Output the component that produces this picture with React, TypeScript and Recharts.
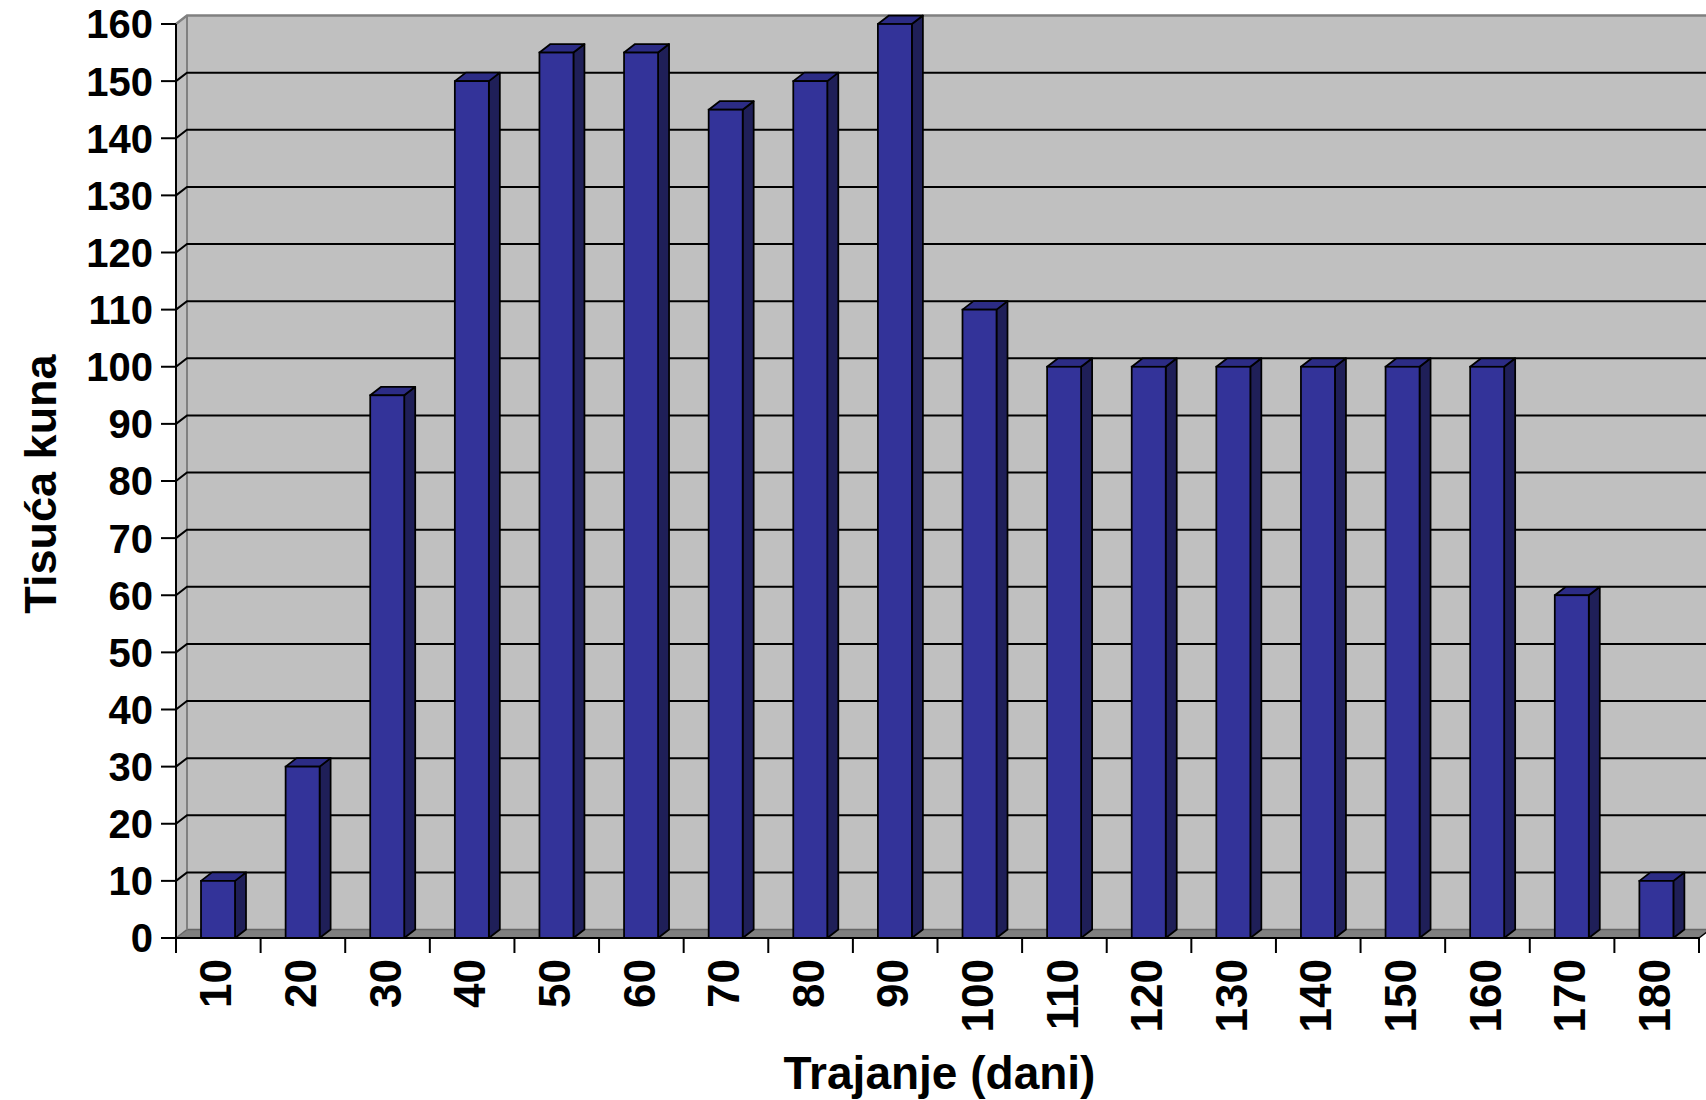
import React from 'react';
import { BarChart, Bar, XAxis, YAxis, ReferenceArea, ReferenceLine, Label } from 'recharts';

const categories = ['10', '20', '30', '40', '50', '60', '70', '80', '90', '100', '110', '120', '130', '140', '150', '160', '170', '180'];
const values = [10, 30, 95, 150, 155, 155, 145, 150, 160, 110, 100, 100, 100, 100, 100, 100, 60, 10];
const yTicks = [0, 10, 20, 30, 40, 50, 60, 70, 80, 90, 100, 110, 120, 130, 140, 150, 160];
const gridValues = [10, 20, 30, 40, 50, 60, 70, 80, 90, 100, 110, 120, 130, 140, 150];
const yLabel = 'Tisuća kuna';
const xLabel = 'Trajanje (dani)';

const data = categories.map((c, i) => ({ name: c, value: values[i] }));

const W = 1706;
const H = 1100;
const MARGIN = { top: 24, right: 7, left: 0, bottom: 0 };
const Y_AXIS_W = 176;
const X_AXIS_H = 162;
const PLOT_W = W - MARGIN.left - MARGIN.right - Y_AXIS_W;
const BAND = PLOT_W / categories.length;
const DX = 11;
const DY = 8.5;
const FONT = '"Liberation Sans", Arial, Helvetica, sans-serif';
const TICK_SIZE = 15;
const X_TICK_MARGIN = 6;

const Wall = (props: any) => {
  const { x, y, width, height } = props;
  const b = y + height;
  const r = x + width;
  return (
    <g>
      <rect x={x + DX} y={y - DY} width={width} height={height} fill="#c0c0c0" />
      <polygon points={`${x},${y} ${x + DX},${y - DY} ${x + DX},${b - DY} ${x},${b}`} fill="#c0c0c0" />
      <polygon points={`${x},${b} ${x + DX},${b - DY} ${r + DX},${b - DY} ${r},${b}`} fill="#808080" />
      <line x1={x} y1={b} x2={x + DX} y2={b - DY} stroke="#666" strokeWidth={1.5} />
      <line x1={x + DX} y1={b - DY} x2={r + DX} y2={b - DY} stroke="#666" strokeWidth={1.5} />
      <line x1={r} y1={b} x2={r + DX} y2={b - DY} stroke="#000" strokeWidth={1.5} />
      <line x1={x + DX} y1={y - DY} x2={x + DX} y2={b - DY} stroke="#808080" strokeWidth={2} />
      <polyline points={`${x},${y} ${x + DX},${y - DY} ${r + DX},${y - DY}`} fill="none" stroke="#808080" strokeWidth={2.5} />
    </g>
  );
};

const GridLine = (props: any) => {
  const { x1, y1, x2 } = props;
  return (
    <polyline
      points={`${x1},${y1} ${x1 + DX},${y1 - DY} ${x2 + DX},${y1 - DY}`}
      fill="none"
      stroke="#000"
      strokeWidth={2}
    />
  );
};

const Bar3D = (props: any) => {
  const { x, y, width, height } = props;
  if (height == null || height <= 0) return null;
  const r = x + width;
  const b = y + height;
  return (
    <g>
      <polygon points={`${r},${y} ${r + DX},${y - DY} ${r + DX},${b - DY} ${r},${b}`} fill="#1f1f58" stroke="#000" strokeWidth={1.75} strokeLinejoin="round" />
      <polygon points={`${x},${y} ${x + DX},${y - DY} ${r + DX},${y - DY} ${r},${y}`} fill="#2c2c85" stroke="#000" strokeWidth={1.75} strokeLinejoin="round" />
      <rect x={x} y={y} width={width} height={height} fill="#333399" stroke="#000" strokeWidth={1.75} />
    </g>
  );
};

const YTick = (props: any) => {
  const { x, y, payload } = props;
  return (
    <text x={x} y={y} dy="0.36em" textAnchor="end" fontFamily={FONT} fontWeight="bold" fontSize={40} fill="#000">
      {payload.value}
    </text>
  );
};

const XTick = (props: any) => {
  const { x, y, payload, index, visibleTicksCount } = props;
  const axisY = y - TICK_SIZE - X_TICK_MARGIN;
  const last = index === (visibleTicksCount ?? categories.length) - 1;
  return (
    <g>
      <line x1={x - BAND / 2} y1={axisY} x2={x - BAND / 2} y2={axisY + TICK_SIZE} stroke="#000" strokeWidth={2} />
      {last && <line x1={x + BAND / 2} y1={axisY} x2={x + BAND / 2} y2={axisY + TICK_SIZE} stroke="#000" strokeWidth={2} />}
      <text
        x={x}
        y={y}
        dy="0.3em"
        transform={`rotate(-90 ${x} ${y})`}
        textAnchor="end"
        fontFamily={FONT}
        fontWeight="bold"
        fontSize={44}
        fill="#000"
      >
        {payload.value}
      </text>
    </g>
  );
};

const YLabelContent = (props: any) => {
  const vb = props.viewBox || { x: 0, y: 24, width: 176, height: 914 };
  const cx = vb.x + 56;
  const cy = vb.y + vb.height / 2 + 3;
  return (
    <text x={cx} y={cy} transform={`rotate(-90 ${cx} ${cy})`} textAnchor="middle" fontFamily={FONT} fontWeight="bold" fontSize={45} fill="#000">
      {yLabel}
    </text>
  );
};

const XLabelContent = (props: any) => {
  const vb = props.viewBox || { x: 176, y: 938, width: 1523, height: 162 };
  const cx = vb.x + vb.width / 2 + 2;
  const cy = 1089;
  return (
    <text x={cx} y={cy} textAnchor="middle" fontFamily={FONT} fontWeight="bold" fontSize={46} fill="#000">
      {xLabel}
    </text>
  );
};

export default function App() {
  return (
    <div style={{ position: 'absolute', left: 0, top: 0, width: W, height: H, background: '#fff' }}>
      <BarChart width={W} height={H} data={data} margin={MARGIN} barSize={34}>
        <XAxis
          dataKey="name"
          height={X_AXIS_H}
          interval={0}
          tickLine={false}
          tickSize={TICK_SIZE}
          tickMargin={X_TICK_MARGIN}
          axisLine={{ stroke: '#000', strokeWidth: 2 }}
          tick={XTick}
        >
          <Label content={XLabelContent} />
        </XAxis>
        <YAxis
          width={Y_AXIS_W}
          domain={[0, 160]}
          ticks={yTicks}
          interval={0}
          tickSize={TICK_SIZE}
          tickMargin={8}
          tickLine={{ stroke: '#000', strokeWidth: 2 }}
          axisLine={{ stroke: '#000', strokeWidth: 2 }}
          tick={YTick}
        >
          <Label content={YLabelContent} />
        </YAxis>
        <ReferenceArea y1={0} y2={160} shape={Wall} ifOverflow="visible" zIndex={-200} />
        {gridValues.map((v) => (
          <ReferenceLine key={v} y={v} shape={GridLine} ifOverflow="visible" zIndex={-150} />
        ))}
        <Bar dataKey="value" shape={Bar3D} isAnimationActive={false} />
      </BarChart>
    </div>
  );
}
